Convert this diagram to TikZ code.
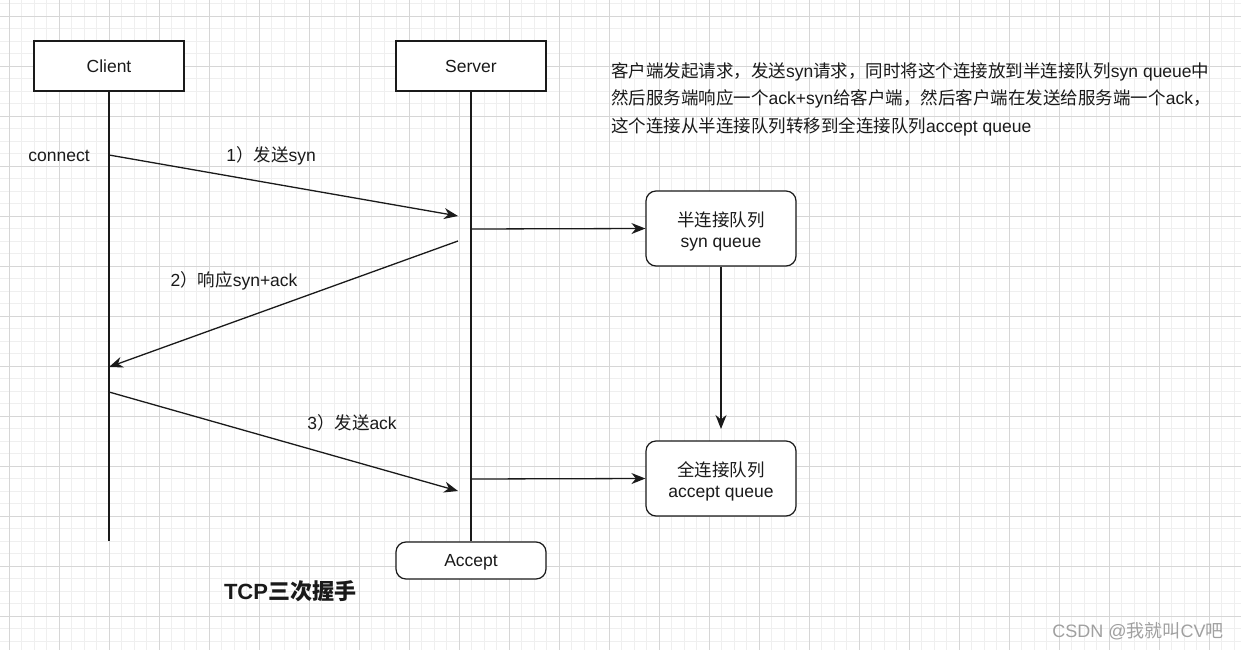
\documentclass[tikz,border=0pt]{standalone}
\usepackage{fontspec}
\setmainfont{Liberation Sans}
\newfontfamily\cjk{Noto Sans CJK SC}
\usetikzlibrary{arrows.meta}
\definecolor{minorgrid}{HTML}{EFEFEF}
\definecolor{majorgrid}{HTML}{D6D6D6}
\definecolor{ink}{HTML}{1A1A1A}
\definecolor{wm}{HTML}{A0A0A0}
\tikzset{
  base/.style={font=\fontsize{17.5}{21}\selectfont, text=ink},
  centred/.style={text height=15.8pt, text depth=3.7pt},
  box/.style={base, centred, draw=ink, line width=1.2pt, fill=white, minimum width=150, minimum height=50, inner sep=0},
  rbox/.style={base, draw=ink, line width=1.2pt, fill=white, rounded corners=10pt, minimum width=150, inner sep=0, align=center},
  life/.style={draw=ink, line width=1.3pt},
  msg/.style={draw=ink, line width=1.3pt, -{Stealth[length=14pt,width=11pt,inset=4.5pt]}},
  lbl/.style={base, centred, inner sep=0},
}
\begin{document}
\begin{tikzpicture}[x=1pt,y=-1pt]
\useasboundingbox (0,0) rectangle (1241,650);
\fill[white] (0,0) rectangle (1241,650);
% grid
\foreach \i in {0,...,100} {
  \draw[minorgrid, line width=0.8pt] ({-3.2+12.5*\i},0) -- ({-3.2+12.5*\i},650);
}
\foreach \i in {0,...,53} {
  \draw[minorgrid, line width=0.8pt] (0,{3.5+12.5*\i}) -- (1241,{3.5+12.5*\i});
}
\foreach \i in {0,...,25} {
  \draw[majorgrid, line width=0.9pt] ({9.3+50*\i},0) -- ({9.3+50*\i},650);
}
\foreach \i in {0,...,13} {
  \draw[majorgrid, line width=0.9pt] (0,{16+50*\i}) -- (1241,{16+50*\i});
}

% participants
\node[box] (client) at (109,66) {Client};
\node[box] (server) at (471,66) {Server};
\node[rbox, centred, minimum height=37] (accept) at (471,560.5) {Accept};
\coordinate (clientend) at (109,541);

\draw[life] (client) -- (clientend);
\draw[life] (server) -- (accept);

% queues
\node[rbox, minimum height=75] (half) at (721,228.5) {\rule{0pt}{20pt}{\cjk 半连接队列}\\syn queue};
\node[rbox, minimum height=75] (full) at (721,478.5) {\rule{0pt}{20pt}{\cjk 全连接队列}\\accept queue};

% message endpoints
\coordinate (m1s) at (109,155);
\coordinate (m1e) at (458,216);
\coordinate (m2s) at (458,241);
\coordinate (m2e) at (109,367);
\coordinate (m3s) at (109,392);
\coordinate (m3e) at (458,491);
\coordinate (q1s) at (471,229);
\coordinate (q2s) at (471,479);
\coordinate (qdown) at (721,429);

\draw[msg] (m1s) -- (m1e);
\draw[msg] (m2s) -- (m2e);
\draw[msg] (m3s) -- (m3e);
\draw[msg] (q1s) -- (half.west);
\draw[msg] (q2s) -- (full.west);
\draw[msg] (half.south) -- (qdown);

% labels
\node[lbl] (connect) at (59,155) {connect};
\node[lbl] (l1) at (271,155) {1{\cjk ）发送}syn};
\node[lbl] (l2) at (234,280) {2{\cjk ）响应}syn+ack};
\node[lbl] (l3) at (352,423) {3{\cjk ）发送}ack};

% description
\node[base, inner sep=0, anchor=base west] (t1) at (611,77.5) {{\cjk 客户端发起请求，发送}syn{\cjk 请求，同时将这个连接放到半连接队列}syn queue{\cjk 中}};
\node[base, inner sep=0, anchor=base west] (t2) at (611,105) {{\cjk 然后服务端响应一个}ack+syn{\cjk 给客户端，然后客户端在发送给服务端一个}ack{\cjk ，}};
\node[base, inner sep=0, anchor=base west] (t3) at (611,132.5) {{\cjk 这个连接从半连接队列转移到全连接队列}accept queue};

% title
\node[inner sep=0, text=ink, font=\fontsize{22}{26}\selectfont\bfseries] (title) at (290,591) {TCP{\cjk 三次握手}};

% watermark
\node[inner sep=0, text=wm, font=\fontsize{18}{21}\selectfont] (wmk) at (1138,631) {CSDN @{\cjk 我就叫}CV{\cjk 吧}};
\end{tikzpicture}
\end{document}
